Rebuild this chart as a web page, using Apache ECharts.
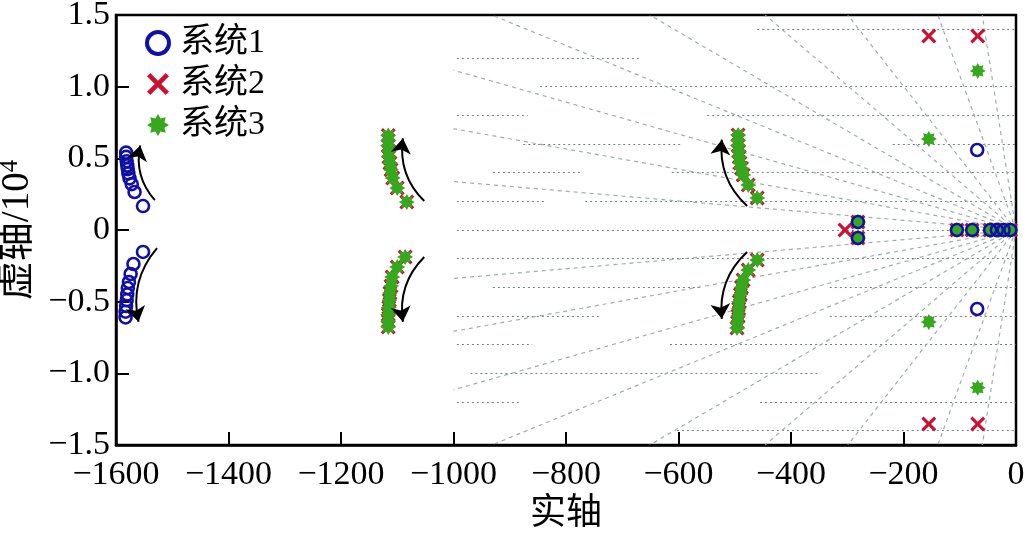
<!DOCTYPE html>
<html>
<head>
<meta charset="utf-8">
<script src="https://cdn.jsdelivr.net/npm/echarts@6/dist/echarts.min.js"></script>
<style>
  html, body { margin: 0; padding: 0; background: #fff; }
  #main { width: 1031px; height: 536px; }
</style>
</head>
<body>
<div id="main"></div>
<script>
// 轴刻度
var xTickLabels = ['−1600', '−1400', '−1200', '−1000', '−800', '−600', '−400', '−200', '0'];
var yTickLabels = ['−1.5', '−1.0', '−0.5', '0', '0.5', '1.0', '1.5'];

// 系统1
var sys1 = [
  [-1582, 0.54], [-1582, 0.51], [-1581, 0.48], [-1580, 0.45], [-1579, 0.425],
  [-1578, 0.395], [-1576, 0.36], [-1572, 0.32], [-1567, 0.265], [-1552, 0.167],
  [-1552, -0.153], [-1569, -0.237], [-1574, -0.307], [-1577, -0.363], [-1579, -0.405],
  [-1580, -0.45], [-1581, -0.49], [-1582, -0.53], [-1583, -0.57], [-1583, -0.61],
  [-69, 0.558], [-69, -0.551],
  [-281, 0.056], [-281, -0.056],
  [-105, 0], [-78, 0], [-46, 0], [-34, 0], [-22, 0], [-10, 0]
];

// 系统2 / 系统3 共有的两组
var clusterA = [
  [-1083, 0.195], [-1100, 0.293], [-1108, 0.363], [-1111, 0.42], [-1113, 0.468],
  [-1115, 0.51], [-1115, 0.55], [-1116, 0.59], [-1116, 0.625], [-1116, 0.66],
  [-1086, -0.188], [-1100, -0.258], [-1109, -0.328], [-1111, -0.39], [-1113, -0.44],
  [-1114, -0.49], [-1115, -0.54], [-1116, -0.59], [-1116, -0.635], [-1116, -0.677]
];
var clusterB = [
  [-460, 0.223], [-476, 0.314], [-485, 0.384], [-488, 0.43], [-491, 0.468],
  [-492, 0.51], [-493, 0.55], [-494, 0.59], [-494, 0.627], [-494, 0.663],
  [-460, -0.209], [-476, -0.279], [-485, -0.349], [-488, -0.40], [-490, -0.45],
  [-492, -0.50], [-493, -0.55], [-494, -0.60], [-495, -0.645], [-496, -0.684]
];
var realAxis = [[-281, 0.056], [-281, -0.056], [-105, 0], [-78, 0], [-46, 0], [-34, 0], [-22, 0], [-10, 0]];

var sys2Extra = [[-155, 1.354], [-68, 1.354], [-155, -1.354], [-68, -1.354], [-304, 0]];
var sys3Extra = [[-68, 1.11], [-155, 0.635], [-155, -0.642], [-68, -1.10]];

// 箭头 [起点, 终点, 弯曲]
var arrows = [
  [[-1531, 0.209], [-1557, 0.59], 0.25],
  [[-1527, -0.126], [-1560, -0.64], -0.25],
  [[-1052, 0.202], [-1090, 0.64], 0.25],
  [[-1052, -0.188], [-1090, -0.64], -0.25],
  [[-478, 0.167], [-523, 0.63], 0.25],
  [[-478, -0.153], [-523, -0.62], -0.25]
];

// 阻尼/频率网格
var hSegs = [
  [1.4, -460, 0], [1.2, -994, -668], [1.0, -846, 0],
  [0.8, -994, -868], [0.8, -549, 0], [0.6, -876, -597], [0.6, -219, 0],
  [0.4, -930, -770], [0.4, -612, 0], [0.2, -994, -837], [0.2, -766, 0],
  [0, -994, 0],
  [-0.2, -994, 0], [-0.4, -930, -560], [-0.4, -331, 0],
  [-0.6, -994, -740], [-0.6, -331, 0], [-0.8, -994, -860], [-0.8, -615, 0],
  [-1.0, -970, -348], [-1.2, -994, -882], [-1.2, -455, 0], [-1.4, -603, 0]
];
var radialEnds = [
  [-1000, 0.338], [-1000, 0.707], [-1000, 1.115], [-932, 1.5], [-651, 1.5],
  [-446, 1.5], [-299, 1.5], [-139, 1.5], [-60, 1.5],
  [-1000, -0.338], [-1000, -0.707], [-1000, -1.115], [-932, -1.5], [-651, -1.5],
  [-446, -1.5], [-299, -1.5], [-139, -1.5], [-60, -1.5]
];

var sys2 = clusterA.concat(clusterB, realAxis, sys2Extra);
var sys3 = clusterA.concat(clusterB, realAxis, sys3Extra);

var serif = "'Liberation Serif', 'Noto Sans CJK SC', serif";
var starPath = 'path://M20,10 L15.9,12.4 L17.07,17.07 L12.4,15.9 L10,20 L7.6,15.9 L2.93,17.07 L4.1,12.4 L0,10 L4.1,7.6 L2.93,2.93 L7.6,4.1 L10,0 L12.4,4.1 L17.07,2.93 L15.9,7.6 Z';
var crossPath = 'path://M0,3 L3,0 L10,7 L17,0 L20,3 L13,10 L20,17 L17,20 L10,13 L3,20 L0,17 L7,10 Z';
var blue = '#1010a8', red = '#cc1030', green = '#36a81e';

var gridLines = [];
hSegs.forEach(function (s) { gridLines.push({ coords: [[s[1], s[0]], [s[2], s[0]]] }); });
var radialLines = radialEnds.map(function (e) { return { coords: [[0, 0], e] }; });
var arrowLines = arrows.map(function (a) {
  return { coords: [a[0], a[1]], lineStyle: { curveness: a[2] } };
});

var chart = echarts.init(document.getElementById('main'));
var option = {
  animation: false,
  grid: {
    left: 116, right: 15, top: 15, bottom: 91, outerBoundsMode: 'none',
    show: true, borderColor: '#000', borderWidth: 2.5
  },
  legend: {
    orient: 'vertical', left: 140, top: 21,
    itemWidth: 22, itemHeight: 22, itemGap: 7,
    textStyle: { fontFamily: serif, fontSize: 34, color: '#000', padding: [0, 0, 0, 6] },
    data: [
      { name: '系统1', itemStyle: { borderWidth: 4 } },
      { name: '系统2' },
      { name: '系统3' }
    ]
  },
  xAxis: {
    type: 'value', min: -1600, max: 0, interval: 200,
    axisLine: { onZero: false, lineStyle: { color: '#000', width: 2.5 } },
    axisTick: { inside: true, length: 13, lineStyle: { color: '#000', width: 2 } },
    splitLine: { show: false },
    axisLabel: {
      margin: 13, color: '#000', fontFamily: serif, fontSize: 34,
      showMinLabel: true, showMaxLabel: true,
      formatter: function (v) { return xTickLabels[Math.round((v + 1600) / 200)]; }
    },
    name: '实轴', nameLocation: 'middle', nameGap: 52,
    nameTextStyle: { fontFamily: serif, fontSize: 36, color: '#000' }
  },
  yAxis: {
    type: 'value', min: -1.5, max: 1.5, interval: 0.5,
    axisLine: { onZero: false, lineStyle: { color: '#000', width: 2.5 } },
    axisTick: { inside: true, length: 13, lineStyle: { color: '#000', width: 2 } },
    splitLine: { show: false },
    axisLabel: {
      margin: 6, color: '#000', fontFamily: serif, fontSize: 34,
      showMinLabel: true, showMaxLabel: true,
      formatter: function (v) { return yTickLabels[Math.round((v + 1.5) / 0.5)]; }
    },
    name: '{a|虚轴/10}{b|4}', nameLocation: 'middle', nameGap: 66,
    nameTextStyle: {
      color: '#000',
      rich: {
        a: { fontFamily: serif, fontSize: 39, color: '#000' },
        b: { fontFamily: serif, fontSize: 25, color: '#000', verticalAlign: 'top' }
      }
    }
  },
  series: [
    {
      type: 'lines', coordinateSystem: 'cartesian2d', silent: true, z: 1,
      symbol: 'none', data: gridLines,
      lineStyle: { color: '#4f6066', width: 1.2, type: [2, 3], opacity: 0.8 }
    },
    {
      type: 'lines', coordinateSystem: 'cartesian2d', silent: true, z: 1,
      symbol: 'none', data: radialLines,
      lineStyle: { color: '#96a4a4', width: 1.2, type: [4, 4], opacity: 0.9 }
    },
    {
      name: '系统1', type: 'scatter', data: sys1, z: 5,
      symbol: 'circle', symbolSize: 12,
      itemStyle: { color: 'rgba(255,255,255,0)', borderColor: blue, borderWidth: 2.6, opacity: 1 }
    },
    {
      name: '系统2', type: 'scatter', data: sys2, z: 3,
      symbol: crossPath, symbolSize: 15,
      itemStyle: { color: red, opacity: 1 }
    },
    {
      name: '系统3', type: 'scatter', data: sys3, z: 4,
      symbol: starPath, symbolSize: 16,
      itemStyle: { color: green, opacity: 1 }
    },
    {
      type: 'lines', coordinateSystem: 'cartesian2d', silent: true, z: 6,
      symbol: ['none', 'arrow'], symbolSize: [0, 15],
      data: arrowLines,
      lineStyle: { color: '#000', width: 2, opacity: 1 }
    }
  ]
};
chart.setOption(option);
</script>
</body>
</html>
